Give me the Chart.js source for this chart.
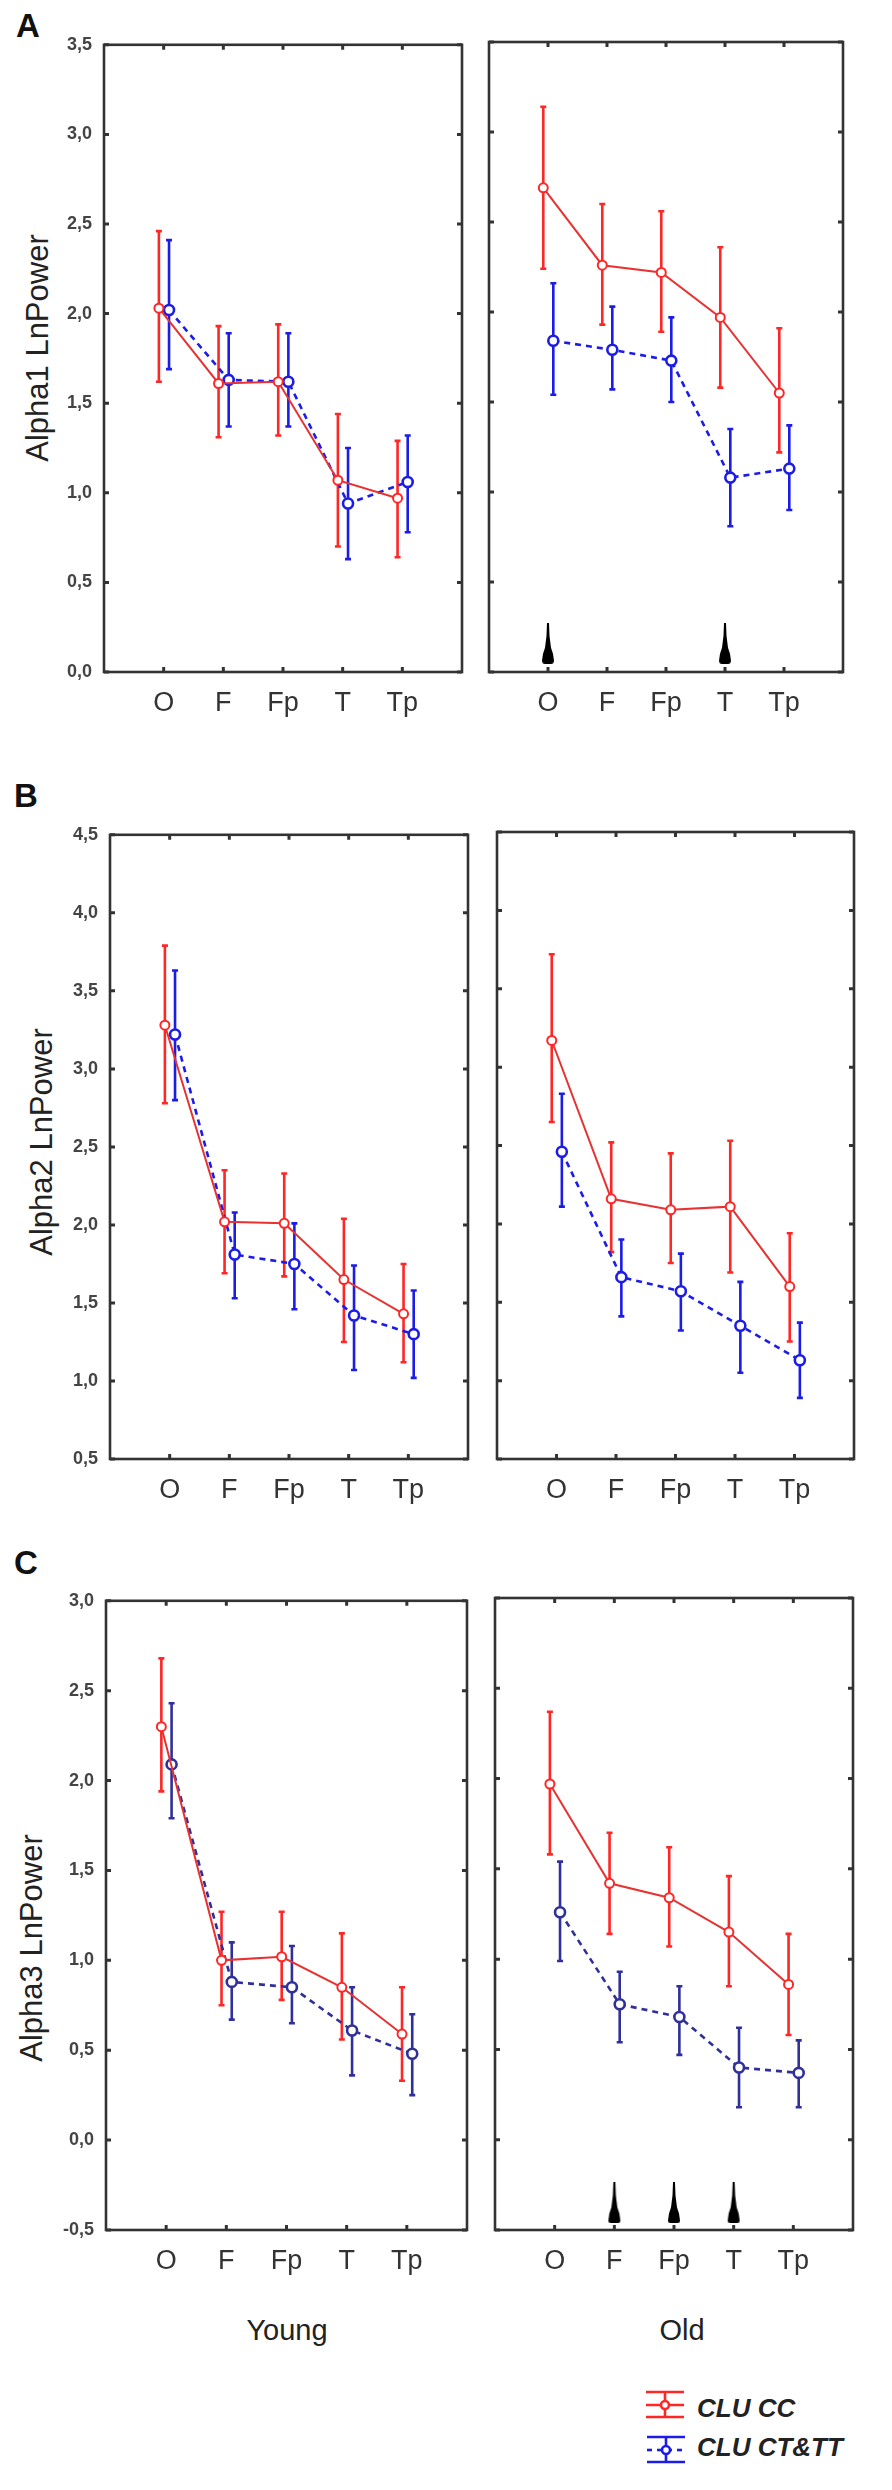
<!DOCTYPE html>
<html lang="en">
<head>
<meta charset="UTF-8">
<title>Alpha LnPower by CLU genotype</title>
<style>
body { margin: 0; background: #fff; }
#page { position: relative; width: 892px; height: 2490px; font-family: "Liberation Sans", Arial, sans-serif; color: #222; }
.letter { position: absolute; font-weight: bold; font-size: 33px; line-height: 33px; color: #111; }
.ytitle { position: absolute; font-size: 31px; line-height: 31px; white-space: nowrap; transform: translate(-50%, -50%) rotate(-90deg); color: #222; }
.group { position: absolute; font-size: 29px; line-height: 29px; white-space: nowrap; transform: translate(-50%, -50%); color: #222; }
canvas.plot { position: absolute; }
canvas.sym { position: absolute; }
.legtext { position: absolute; font-style: italic; font-weight: bold; font-size: 26px; line-height: 26px; white-space: nowrap; color: #222; }
</style>
</head>
<body>
<div id="page">
  <div class="letter" style="left:16px;top:9px">A</div>
  <div class="letter" style="left:14px;top:779px">B</div>
  <div class="letter" style="left:14px;top:1546px">C</div>

  <div class="ytitle" style="left:37px;top:348px">Alpha1 LnPower</div>
  <div class="ytitle" style="left:41px;top:1142px">Alpha2 LnPower</div>
  <div class="ytitle" style="left:31px;top:1948px">Alpha3 LnPower</div>

  <div class="group" style="left:287px;top:2330px">Young</div>
  <div class="group" style="left:682px;top:2330px">Old</div>

  <canvas class="sym" id="sym-cc" width="44" height="32" style="left:644px;top:2389px"></canvas>
  <canvas class="sym" id="sym-ct" width="44" height="32" style="left:645px;top:2434px"></canvas>
  <div class="legtext" style="left:697px;top:2395px">CLU CC</div>
  <div class="legtext" style="left:697px;top:2434px">CLU CT&amp;TT</div>
</div>

<script src="https://cdn.jsdelivr.net/npm/chart.js@4"></script>
<script>

const categories = ['O', 'F', 'Fp', 'T', 'Tp']

// tick labels of the three rows
const alpha1Ticks = [0.0, 0.5, 1.0, 1.5, 2.0, 2.5, 3.0, 3.5]
const alpha2Ticks = [0.5, 1.0, 1.5, 2.0, 2.5, 3.0, 3.5, 4.0, 4.5]
const alpha3Ticks = [-0.5, 0.0, 0.5, 1.0, 1.5, 2.0, 2.5, 3.0]

// A - Alpha1
const a1YoungCC = [2.03, 1.61, 1.62, 1.07, 0.97]
const a1YoungCCLow = [1.62, 1.31, 1.32, 0.70, 0.64]
const a1YoungCCHigh = [2.46, 1.93, 1.94, 1.44, 1.29]
const a1YoungCT = [2.02, 1.63, 1.62, 0.94, 1.06]
const a1YoungCTLow = [1.69, 1.37, 1.37, 0.63, 0.78]
const a1YoungCTHigh = [2.41, 1.89, 1.89, 1.25, 1.32]
const a1OldCC = [2.69, 2.26, 2.22, 1.97, 1.55]
const a1OldCCLow = [2.24, 1.93, 1.89, 1.58, 1.22]
const a1OldCCHigh = [3.14, 2.60, 2.56, 2.36, 1.91]
const a1OldCT = [1.84, 1.79, 1.73, 1.08, 1.13]
const a1OldCTLow = [1.54, 1.57, 1.50, 0.81, 0.90]
const a1OldCTHigh = [2.16, 2.03, 1.97, 1.35, 1.37]

// B - Alpha2
const a2YoungCC = [3.28, 2.02, 2.01, 1.65, 1.43]
const a2YoungCCLow = [2.78, 1.69, 1.67, 1.25, 1.12]
const a2YoungCCHigh = [3.79, 2.35, 2.33, 2.04, 1.75]
const a2YoungCT = [3.22, 1.81, 1.75, 1.42, 1.30]
const a2YoungCTLow = [2.80, 1.53, 1.46, 1.07, 1.02]
const a2YoungCTHigh = [3.63, 2.08, 2.01, 1.74, 1.58]
const a2OldCC = [3.17, 2.16, 2.09, 2.11, 1.60]
const a2OldCCLow = [2.65, 1.82, 1.75, 1.69, 1.25]
const a2OldCCHigh = [3.72, 2.52, 2.45, 2.53, 1.94]
const a2OldCT = [2.46, 1.66, 1.57, 1.35, 1.13]
const a2OldCTLow = [2.11, 1.41, 1.32, 1.05, 0.89]
const a2OldCTHigh = [2.83, 1.90, 1.81, 1.63, 1.37]

// C - Alpha3
const a3YoungCC = [2.30, 1.00, 1.02, 0.85, 0.59]
const a3YoungCCLow = [1.94, 0.75, 0.78, 0.56, 0.33]
const a3YoungCCHigh = [2.68, 1.27, 1.27, 1.15, 0.85]
const a3YoungCT = [2.09, 0.88, 0.85, 0.61, 0.48]
const a3YoungCTLow = [1.79, 0.67, 0.65, 0.36, 0.25]
const a3YoungCTHigh = [2.43, 1.10, 1.08, 0.85, 0.70]
const a3OldCC = [1.97, 1.42, 1.34, 1.15, 0.86]
const a3OldCCLow = [1.58, 1.14, 1.07, 0.85, 0.58]
const a3OldCCHigh = [2.37, 1.70, 1.62, 1.46, 1.14]
const a3OldCT = [1.26, 0.75, 0.68, 0.40, 0.37]
const a3OldCTLow = [0.99, 0.54, 0.47, 0.18, 0.18]
const a3OldCTHigh = [1.54, 0.93, 0.85, 0.62, 0.55]

// significance markers (old group)
const alpha1Marks = ['O', 'T']
const alpha1MarkLevel = 0.16
const alpha3Marks = ['F', 'Fp', 'T']
const alpha3MarkLevel = -0.35

const FONT = '"Liberation Sans", Arial, sans-serif'
const RED = '#ff2626'
const RED_LINE = '#e83232'
const BLUE = '#1c1ce8'
const NAVY = '#30309a'

// black spike used for the significance marks
function makeSpike() {
  const c = document.createElement('canvas')
  c.width = 14
  c.height = 41
  const g = c.getContext('2d')
  g.fillStyle = '#000'
  g.beginPath()
  g.moveTo(6, 0)
  g.lineTo(8, 0)
  g.lineTo(8.5, 13)
  g.lineTo(10, 25)
  g.lineTo(12, 31)
  g.lineTo(13, 38)
  g.quadraticCurveTo(13, 41, 10, 41)
  g.lineTo(4, 41)
  g.quadraticCurveTo(1, 41, 1, 38)
  g.lineTo(2, 31)
  g.lineTo(4, 25)
  g.lineTo(5.5, 13)
  g.closePath()
  g.fill()
  return c
}
const spike = makeSpike()

// vertical error bars, drawn under the lines
const errorBars = {
  id: 'errorBars',
  beforeDatasetsDraw(chart) {
    const ctx = chart.ctx
    const x = chart.scales.x
    const y = chart.scales.y
    chart.data.datasets.forEach(ds => {
      if (!ds.low) return
      ctx.save()
      ctx.strokeStyle = ds.barColor
      ctx.lineWidth = 2.6
      ds.data.forEach((p, i) => {
        const px = x.getPixelForValue(p.x)
        const top = y.getPixelForValue(ds.high[i])
        const bot = y.getPixelForValue(ds.low[i])
        ctx.beginPath()
        ctx.moveTo(px, top)
        ctx.lineTo(px, bot)
        ctx.moveTo(px - 3, top)
        ctx.lineTo(px + 3, top)
        ctx.moveTo(px - 3, bot)
        ctx.lineTo(px + 3, bot)
        ctx.stroke()
      })
      ctx.restore()
    })
  }
}

// closed frame with inward ticks on the four sides
const frame = {
  id: 'frame',
  afterDraw(chart) {
    const { ctx, chartArea: a } = chart
    const x = chart.scales.x
    const y = chart.scales.y
    ctx.save()
    ctx.strokeStyle = '#333'
    ctx.lineWidth = 2.6
    ctx.strokeRect(a.left, a.top, a.right - a.left, a.bottom - a.top)
    ctx.lineWidth = 3
    ctx.beginPath()
    y.ticks.forEach(t => {
      const py = y.getPixelForValue(t.value)
      ctx.moveTo(a.left, py)
      ctx.lineTo(a.left + 5, py)
      ctx.moveTo(a.right, py)
      ctx.lineTo(a.right - 5, py)
    })
    x.ticks.forEach(t => {
      const px = x.getPixelForValue(t.value)
      ctx.moveTo(px, a.bottom)
      ctx.lineTo(px, a.bottom - 5)
      ctx.moveTo(px, a.top)
      ctx.lineTo(px, a.top + 5)
    })
    ctx.stroke()
    ctx.restore()
  }
}

function series(label, mean, low, high, offset, color, lineColor, dashed) {
  return {
    label: label,
    data: mean.map((v, i) => ({ x: i + 1 + offset, y: v })),
    low: low,
    high: high,
    barColor: color,
    borderColor: lineColor,
    borderWidth: dashed ? 2.6 : 2,
    borderDash: dashed ? [6, 5] : [],
    pointRadius: dashed ? 5 : 4.5,
    pointBorderWidth: dashed ? 2.6 : 2,
    pointBackgroundColor: '#fff',
    pointBorderColor: color,
    tension: 0,
    fill: false
  }
}

function panel(box, yTicks, cc, ct, blue, showY, marks, markLevel) {
  const padL = 70, padT = 20, padR = 15, padB = 50
  const canvas = document.createElement('canvas')
  canvas.className = 'plot'
  canvas.width = box.r - box.l + padL + padR
  canvas.height = box.b - box.t + padT + padB
  canvas.style.left = (box.l - padL) + 'px'
  canvas.style.top = (box.t - padT) + 'px'
  document.getElementById('page').appendChild(canvas)

  const datasets = [
    series('CLU CC', cc[0], cc[1], cc[2], -0.08, RED, RED_LINE, false),
    series('CLU CT&TT', ct[0], ct[1], ct[2], 0.09, blue, blue, true)
  ]
  if (marks) {
    datasets.push({
      type: 'scatter',
      label: 'sig',
      data: marks.map(c => ({ x: categories.indexOf(c) + 1, y: markLevel })),
      pointStyle: spike,
      showLine: false
    })
  }

  return new Chart(canvas, {
    type: 'line',
    data: { datasets: datasets },
    plugins: [errorBars, frame],
    options: {
      responsive: false,
      animation: false,
      layout: { padding: { top: padT, right: padR, left: 0, bottom: 0 } },
      plugins: { legend: { display: false }, tooltip: { enabled: false } },
      scales: {
        x: {
          type: 'linear',
          min: 0,
          max: 6,
          grid: { display: false, drawTicks: false },
          border: { display: false },
          afterBuildTicks: s => { s.ticks = categories.map((c, i) => ({ value: i + 1 })) },
          afterFit: s => { s.height = padB },
          ticks: {
            callback: v => categories[v - 1],
            font: { family: FONT, size: 27 },
            color: '#333',
            padding: 15,
            maxRotation: 0,
            autoSkip: false
          }
        },
        y: {
          type: 'linear',
          min: yTicks[0],
          max: yTicks[yTicks.length - 1],
          grid: { display: false, drawTicks: false },
          border: { display: false },
          afterBuildTicks: s => { s.ticks = yTicks.map(v => ({ value: v })) },
          afterFit: s => { s.width = padL },
          ticks: {
            display: showY,
            callback: v => v.toFixed(1).replace('.', ','),
            font: { family: FONT, size: 18, weight: 'bold' },
            color: '#444',
            padding: 12
          }
        }
      }
    }
  })
}

panel({ l: 104, r: 462, t: 42, b: 672 }, alpha1Ticks,
  [a1YoungCC, a1YoungCCLow, a1YoungCCHigh], [a1YoungCT, a1YoungCTLow, a1YoungCTHigh], BLUE, true)
panel({ l: 489, r: 843, t: 42, b: 672 }, alpha1Ticks,
  [a1OldCC, a1OldCCLow, a1OldCCHigh], [a1OldCT, a1OldCTLow, a1OldCTHigh], BLUE, false, alpha1Marks, alpha1MarkLevel)

panel({ l: 110, r: 468, t: 832, b: 1459 }, alpha2Ticks,
  [a2YoungCC, a2YoungCCLow, a2YoungCCHigh], [a2YoungCT, a2YoungCTLow, a2YoungCTHigh], BLUE, true)
panel({ l: 497, r: 854, t: 832, b: 1459 }, alpha2Ticks,
  [a2OldCC, a2OldCCLow, a2OldCCHigh], [a2OldCT, a2OldCTLow, a2OldCTHigh], BLUE, false)

panel({ l: 106, r: 467, t: 1598, b: 2230 }, alpha3Ticks,
  [a3YoungCC, a3YoungCCLow, a3YoungCCHigh], [a3YoungCT, a3YoungCTLow, a3YoungCTHigh], NAVY, true)
panel({ l: 495, r: 853, t: 1598, b: 2230 }, alpha3Ticks,
  [a3OldCC, a3OldCCLow, a3OldCCHigh], [a3OldCT, a3OldCTLow, a3OldCTHigh], NAVY, false, alpha3Marks, alpha3MarkLevel)

// legend symbols: error bar with caps and the mean marker
function legendSymbol(id, color, dashed) {
  const g = document.getElementById(id).getContext('2d')
  g.strokeStyle = color
  g.lineWidth = 2.6
  g.beginPath()
  g.moveTo(2, 3); g.lineTo(40, 3)
  g.moveTo(2, 28); g.lineTo(40, 28)
  g.moveTo(21, 3); g.lineTo(21, 28)
  g.stroke()
  g.setLineDash(dashed ? [5, 5] : [])
  g.beginPath()
  g.moveTo(2, 16); g.lineTo(40, 16)
  g.stroke()
  g.setLineDash([])
  g.fillStyle = '#fff'
  g.beginPath()
  g.arc(21, 16, 4, 0, Math.PI * 2)
  g.fill()
  g.stroke()
}
legendSymbol('sym-cc', RED, false)
legendSymbol('sym-ct', BLUE, true)

</script>
</body>
</html>
